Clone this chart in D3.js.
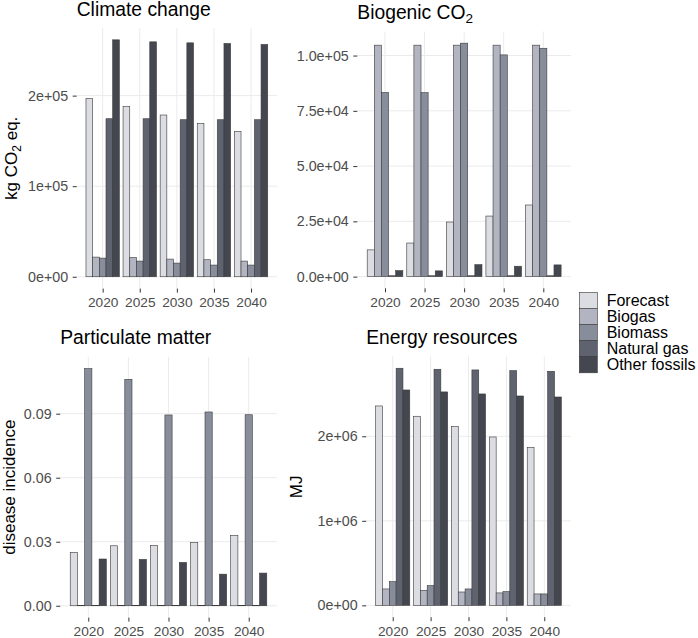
<!DOCTYPE html>
<html>
<head>
<meta charset="utf-8">
<script src="https://cdn.jsdelivr.net/npm/d3@7"></script>
<style>
  body { margin: 0; background: #fff; }
  svg text { font-family: "Liberation Sans", Arial, sans-serif; }
</style>
</head>
<body>
<svg id="chart" width="698" height="638"></svg>
<script>
// categories
const years = ['2020', '2025', '2030', '2035', '2040'];
const sources = ['Forecast', 'Biogas', 'Biomass', 'Natural gas', 'Other fossils'];
const colors = ['#dcdde2', '#b2b5c1', '#888d9b', '#5f6370', '#44474f'];

// values per source, one entry per year
const climateChange = {
    'Forecast':      [197000, 187800, 178600, 169400, 160500],
    'Biogas':        [21700, 21300, 19500, 18800, 17300],
    'Biomass':       [20600, 17300, 15100, 12900, 12900],
    'Natural gas':   [174500, 174500, 173400, 173400, 173400],
    'Other fossils': [261600, 259400, 258300, 257600, 256500]
};
const biogenicCO2 = {
    'Forecast':      [12100, 15200, 24700, 27400, 32400],
    'Biogas':        [104700, 104700, 104700, 104700, 104700],
    'Biomass':       [83300, 83200, 105600, 100300, 103300],
    'Natural gas':   [400, 400, 400, 400, 400],
    'Other fossils': [2700, 2600, 5400, 4700, 5300]
};
const particulateMatter = {
    'Forecast':      [0.0250, 0.0281, 0.0283, 0.0297, 0.0330],
    'Biogas':        [0.0001, 0.0001, 0.0001, 0.0001, 0.0001],
    'Biomass':       [0.1111, 0.1061, 0.0894, 0.0908, 0.0895],
    'Natural gas':   [0.0001, 0.0001, 0.0001, 0.0001, 0.0001],
    'Other fossils': [0.0219, 0.0217, 0.0203, 0.0148, 0.0153]
};
const energyResources = {
    'Forecast':      [2359000, 2237000, 2114000, 1992000, 1870000],
    'Biogas':        [194000, 178000, 158000, 147000, 135000],
    'Biomass':       [280000, 233000, 194000, 162000, 135000],
    'Natural gas':   [2805000, 2793000, 2785000, 2777000, 2769000],
    'Other fossils': [2548000, 2525000, 2501000, 2477000, 2465000]
};

// y tick breaks
const climateTicks = [0, 1e5, 2e5];
const biogenicTicks = [0, 2.5e4, 5e4, 7.5e4, 1e5];
const particulateTicks = [0, 0.03, 0.06, 0.09];
const energyTicks = [0, 1e6, 2e6];

// R-style scientific labels, e.g. 2e+05, 2.5e+04
function sci(digits) {
    return function(v) {
        if (v === 0) return (0).toFixed(digits) + 'e+00';
        const e = Math.floor(Math.log10(v) + 1e-9);
        const m = v / Math.pow(10, e);
        return m.toFixed(digits) + 'e' + (e < 0 ? '-' : '+') + String(Math.abs(e)).padStart(2, '0');
    };
}

const panels = [
    { title: 'Climate change', sub: null, ylab: ['kg CO', '2', ' eq.'], data: climateChange, ticks: climateTicks,
      fmt: sci(0), box: { left: 76.7, right: 277, top: 28, bottom: 288.6 }, ylabX: 16.5 },
    { title: 'Biogenic CO', sub: '2', ylab: null, data: biogenicCO2, ticks: biogenicTicks,
      fmt: sci(1), box: { left: 357.3, right: 571, top: 31.5, bottom: 288.3 } },
    { title: 'Particulate matter', sub: null, ylab: ['disease incidence'], data: particulateMatter, ticks: particulateTicks,
      fmt: d3.format('.2f'), box: { left: 60.2, right: 276.8, top: 356.8, bottom: 617.6 }, ylabX: 15 },
    { title: 'Energy resources', sub: null, ylab: ['MJ'], data: energyResources, ticks: energyTicks,
      fmt: sci(0), box: { left: 366.2, right: 570.8, top: 356.4, bottom: 617.2 }, ylabX: 301.5 }
];

const svg = d3.select('#chart');

panels.forEach(p => {
    const b = p.box;
    const maxV = d3.max(sources, s => d3.max(p.data[s]));
    const pad = maxV * 0.05;

    const x = d3.scalePoint().domain(years).range([b.left, b.right]).padding(0.7);
    const y = d3.scaleLinear().domain([-pad, maxV + pad]).range([b.bottom, b.top]);
    const step = x.step();

    const g = svg.append('g');

    // grid
    g.selectAll('.hgrid').data(p.ticks).enter().append('line')
        .attr('x1', b.left).attr('x2', b.right)
        .attr('y1', d => y(d)).attr('y2', d => y(d))
        .attr('stroke', '#ebebeb').attr('stroke-width', 1);
    g.selectAll('.vgrid').data(years).enter().append('line')
        .attr('x1', d => x(d)).attr('x2', d => x(d))
        .attr('y1', b.top).attr('y2', b.bottom)
        .attr('stroke', '#ebebeb').attr('stroke-width', 1);

    // bars
    const barW = step * 0.9 / sources.length;
    sources.forEach((s, i) => {
        g.selectAll('.bar' + i).data(p.data[s]).enter().append('rect')
            .attr('x', (d, j) => x(years[j]) - step * 0.45 + i * barW)
            .attr('y', d => y(d))
            .attr('width', barW)
            .attr('height', d => y(0) - y(d))
            .attr('fill', colors[i])
            .attr('stroke', '#3a3a3a')
            .attr('stroke-width', 0.6);
    });

    // axes
    const yAxis = d3.axisLeft(y).tickValues(p.ticks).tickFormat(p.fmt).tickSize(4).tickPadding(4.5);
    const ya = g.append('g').attr('transform', `translate(${b.left},0)`).call(yAxis);
    const xAxis = d3.axisBottom(x).tickSize(4).tickPadding(5);
    const xa = g.append('g').attr('transform', `translate(0,${b.bottom})`).call(xAxis);
    [ya, xa].forEach(a => {
        a.select('.domain').remove();
        a.selectAll('.tick line').attr('stroke', '#333');
        a.selectAll('.tick text').attr('fill', '#4d4d4d');
    });
    ya.selectAll('.tick text').style('font-size', '14.3px');
    xa.selectAll('.tick text').style('font-size', '13.7px');

    // title
    const t = g.append('text')
        .attr('x', b.left).attr('y', b.top - 12.5)
        .style('font-size', '19.3px').attr('fill', '#000')
        .text(p.title);
    if (p.sub) {
        t.append('tspan').attr('dy', 4).style('font-size', '13.5px').text(p.sub);
    }

    // y axis title
    if (p.ylab) {
        const cy = (b.top + b.bottom) / 2;
        const lab = g.append('text')
            .attr('transform', `translate(${p.ylabX},${cy}) rotate(-90)`)
            .attr('text-anchor', 'middle')
            .style('font-size', '17px').attr('fill', '#000');
        lab.append('tspan').text(p.ylab[0]);
        if (p.ylab.length > 1) {
            lab.append('tspan').attr('dy', 4).style('font-size', '12px').text(p.ylab[1]);
            lab.append('tspan').attr('dy', -4).text(p.ylab[2]);
        }
    }
});

// legend
const legend = svg.append('g').attr('transform', 'translate(579.3,292.3)');
const keyH = 16.1;
sources.forEach((s, i) => {
    legend.append('rect')
        .attr('x', 0).attr('y', i * keyH)
        .attr('width', 18).attr('height', keyH)
        .attr('fill', colors[i]).attr('stroke', '#3a3a3a').attr('stroke-width', 0.6);
    legend.append('text')
        .attr('x', 27.4).attr('y', i * keyH + keyH / 2)
        .attr('dy', '0.35em')
        .style('font-size', '16px').attr('fill', '#000')
        .text(s);
});
</script>
</body>
</html>
